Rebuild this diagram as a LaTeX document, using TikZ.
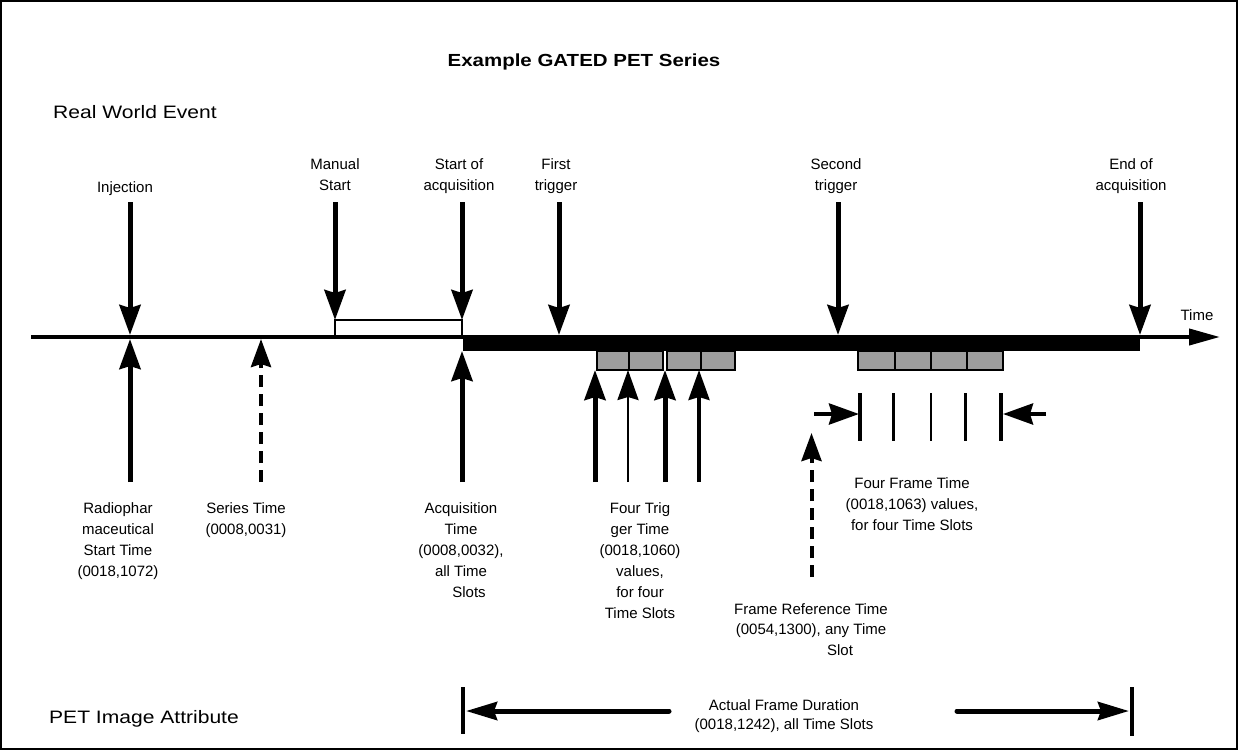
\documentclass[tikz,border=0pt]{standalone}
\usepackage{fontspec}
\setmainfont{Liberation Sans}
\newfontfamily\widefont[FakeStretch=1.17]{Liberation Sans}
\usetikzlibrary{arrows.meta}

\begin{document}
\begin{tikzpicture}[
  x=1pt, y=-1pt,
  lbl/.style={font=\fontsize{15}{21}\selectfont, align=center, inner sep=0pt, anchor=north},
  side/.style={font=\widefont\fontsize{18}{22}\selectfont, anchor=base west, inner sep=0pt},
  evt/.style={-{Stealth[length=30pt,width=21pt,inset=3pt]}, line width=#1},
  evt/.default=5pt,
  dashevt/.style={-{Stealth[length=28pt,width=20pt,inset=3pt]}, line width=4pt,
    dash pattern=on 12pt off 7pt},
  slot/.style={draw, line width=2pt, fill=black!38},
  tick/.style={line width=#1},
  dur/.style={-{Stealth[length=31pt,width=18pt,inset=3pt]}, line width=5pt, line cap=round}
]
\useasboundingbox (0,0) rectangle (1238,750);
\draw[line width=2pt] (1,1) rectangle (1237,749);

% Titles
\node[font=\widefont\bfseries\fontsize{17.5}{20}\selectfont, anchor=base, inner sep=0pt]
  (title) at (584,66) {Example GATED PET Series};
\node[side] (rwe) at (53,118) {Real World Event};
\node[side] (pia) at (49,723) {PET Image Attribute};

% Time axis
\coordinate (tl0) at (31,337);
\coordinate (tl1) at (1220,337);
\draw[line width=4pt, -{Triangle[length=31pt,width=16pt]}] (tl0) -- (tl1);
\node[lbl, anchor=base] (time) at (1197,320) {Time};
\fill (463,335) rectangle (1140,351);
\draw[line width=2pt] (335,337) -- (335,320) -- (462,320) -- (462,337);

% Time slots
\foreach \a/\b in {597/629, 629/663, 667/701, 701/735, 858/895, 895/931, 931/967, 967/1003}
  \draw[slot] (\a,351) rectangle (\b,370);

% Real world events - top labels
\coordinate (top) at (0,202);
\coordinate (bot) at (0,482);
\node[lbl, anchor=base] (inj) at (125,192) {Injection};
\node[lbl] (man) at (335,158) {Manual\\Start};
\node[lbl] (sacq) at (459,158) {Start of\\acquisition};
\node[lbl] (trig1) at (556,158) {First\\trigger};
\node[lbl] (trig2) at (836,158) {Second\\trigger};
\node[lbl] (eacq) at (1131,158) {End of\\acquisition};

\coordinate (dInj) at (130,335);
\coordinate (dMan) at (335,320);
\coordinate (dAcq) at (462,320);
\coordinate (dTr1) at (559,335);
\coordinate (dTr2) at (838,335);
\coordinate (dEnd) at (1140,335);
\draw[evt] (dInj |- top) -- (dInj);
\draw[evt] (dMan |- top) -- (dMan);
\draw[evt] (dAcq |- top) -- (dAcq);
\draw[evt] (dTr1 |- top) -- (dTr1);
\draw[evt] (dTr2 |- top) -- (dTr2);
\draw[evt] (dEnd |- top) -- (dEnd);

% Attributes - up arrows
\coordinate (uInj) at (130,339);
\coordinate (uSer) at (261,339);
\coordinate (uAcq) at (462,351);
\coordinate (uT1) at (595,370);
\coordinate (uT2) at (628,370);
\coordinate (uT3) at (665,370);
\coordinate (uT4) at (699,370);
\draw[evt] (uInj |- bot) -- (uInj);
\draw[dashevt] (uSer |- bot) -- (uSer);
\draw[evt] (uAcq |- bot) -- (uAcq);
\draw[evt] (uT1 |- bot) -- (uT1);
\draw[evt=2.5pt] (uT2 |- bot) -- (uT2);
\draw[evt] (uT3 |- bot) -- (uT3);
\draw[evt=3.5pt] (uT4 |- bot) -- (uT4);

\node[lbl] (rad) at (118,502) {Radiophar\\maceutical\\Start Time\\(0018,1072)};
\node[lbl] (ser) at (246,502) {Series Time\\(0008,0031)};
\node[lbl] (acq) at (461,502) {Acquisition\\Time\\(0008,0032),\\all Time\\\hspace*{16pt}Slots};
\node[lbl] (ftrig) at (640,502) {Four Trig\\ger Time\\(0018,1060)\\values,\\for four\\Time Slots};

% Frame times
\coordinate (fL) at (859,414);
\coordinate (fR) at (1003,414);
\draw[evt=4pt] ([xshift=-45pt]fL) -- (fL);
\draw[evt=4pt] ([xshift=43pt]fR) -- (fR);
\foreach \x/\w in {859.5/4pt, 893.5/3pt, 930.5/2pt, 965/3pt, 1001/4pt}
  \draw[tick=\w] (\x,393) -- (\x,441);
\node[lbl] (fft) at (912,477) {Four Frame Time\\(0018,1063) values,\\for four Time Slots};

\coordinate (uRef) at (811.5,433);
\draw[dashevt] (uRef |- 0,577) -- (uRef);
\node[lbl, font=\fontsize{15}{20.8}\selectfont] (fref) at (811,603)
  {Frame Reference Time\\(0054,1300), any Time\\\hspace*{58pt}Slot};

% Actual frame duration
\coordinate (durL) at (463,711);
\coordinate (durR) at (1132,711);
\draw[line width=4pt] (463,687) -- (463,734);
\draw[line width=4pt] (1132,687) -- (1132,736);
\node[lbl, font=\fontsize{15}{19}\selectfont] (dlab) at (784,699)
  {Actual Frame Duration\\(0018,1242), all Time Slots};
\draw[dur] (669,711) -- ([xshift=3pt]durL);
\draw[dur] (957,711) -- ([xshift=-3pt]durR);

\end{tikzpicture}
\end{document}
